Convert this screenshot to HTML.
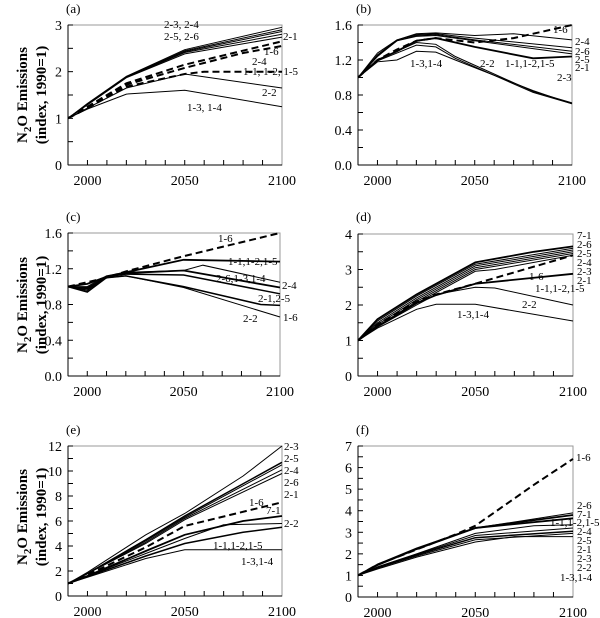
<!DOCTYPE html>
<html><head><meta charset="utf-8"><style>
html,body{margin:0;padding:0;background:#fff;}
svg{display:block;}
svg text{font-family:"Liberation Serif","Times New Roman",serif;}
</style></head><body>
<svg id="s" width="600" height="618" viewBox="0 0 600 618" xmlns="http://www.w3.org/2000/svg"></svg>
<script>
const S=document.getElementById('s');let h='';
function P(o){
 const {x0,x1,yt,yb,max,step,minor,lab,lx,ly,fmt,lines,texts}=o;
 const X=y=>x0+(y-1990)/110*(x1-x0), Y=v=>yb-v/max*(yb-yt);
 h+=`<rect x="${x0}" y="${yt}" width="${x1-x0}" height="${yb-yt}" fill="none" stroke="#999" stroke-width="1"/>`;
 h+=`<line x1="${x0}" y1="${yt}" x2="${x0}" y2="${yb}" stroke="#000"/><line x1="${x0}" y1="${yb}" x2="${x1}" y2="${yb}" stroke="#000"/>`;
 for(let yr=2000;yr<2100;yr+=10)h+=`<line x1="${X(yr)}" y1="${yb}" x2="${X(yr)}" y2="${yb-5}" stroke="#000"/>`;
 for(const yr of [2000,2050,2100])h+=`<text x="${X(yr)}" y="${yb+20}" font-size="14" text-anchor="middle">${yr}</text>`;
 for(let v=0;v<=max+1e-9;v+=minor){h+=`<line x1="${x0}" y1="${Y(v)}" x2="${x0+5}" y2="${Y(v)}" stroke="#000"/>`;}
 for(let v=0;v<=max+1e-9;v+=step){h+=`<text x="${x0-6}" y="${Y(v)+5}" font-size="14" text-anchor="end">${fmt(v)}</text>`;}
 h+=`<text x="${lx}" y="${ly}" font-size="13">${lab}</text>`;
 for(const l of lines){const pts=l.p.map(q=>X(q[0]).toFixed(1)+','+Y(q[1]).toFixed(1)).join(' ');
  h+=`<polyline points="${pts}" fill="none" stroke="#000" stroke-width="${l.d?2:(l.w||1)}" ${l.d?'stroke-dasharray="7,4"':''}/>`;}
 for(const t of texts)h+=`<text x="${t[0]}" y="${t[1]}" font-size="11" ${t[3]?'text-anchor="'+t[3]+'"':''}>${t[2]}</text>`;
}
const f0=v=>Math.round(v), f1=v=>v.toFixed(1);
const L=(arr,d,w)=>({p:arr,d,w});
// (a)
P({x0:68,x1:282,yt:25,yb:165,max:3,step:1,minor:0.5,lab:'(a)',lx:66,ly:13,fmt:f0,
lines:[
L([[1990,1],[2000,1.32],[2020,1.9],[2050,2.47],[2100,2.95]]),
L([[1990,1],[2000,1.31],[2020,1.89],[2050,2.45],[2100,2.9]]),
L([[1990,1],[2000,1.3],[2020,1.88],[2050,2.43],[2100,2.86]]),
L([[1990,1],[2000,1.3],[2020,1.88],[2050,2.41],[2100,2.8]]),
L([[1990,1],[2000,1.29],[2020,1.87],[2050,2.38],[2100,2.74]]),
L([[1990,1],[2000,1.25],[2020,1.75],[2050,2.15],[2100,2.65]],1),
L([[1990,1],[2000,1.24],[2020,1.72],[2050,2.08],[2080,2.4],[2100,2.55]],1),
L([[1990,1],[2000,1.22],[2020,1.68],[2050,1.95],[2060,2.0],[2100,2.0]],1),
L([[1990,1],[2000,1.22],[2020,1.65],[2050,1.95],[2100,1.65]]),
L([[1990,1],[2000,1.2],[2020,1.52],[2050,1.6],[2100,1.25]])],
texts:[[164,28,'2-3, 2-4'],[164,40,'2-5, 2-6'],[283,40,'2-1'],[264,55,'1-6'],[252,65,'2-4'],[243,75,'1-1, 1-2, 1-5'],[262,96,'2-2'],[187,111,'1-3, 1-4']]});
// (b)
P({x0:358,x1:572,yt:25,yb:165,max:1.6,step:0.4,minor:0.2,lab:'(b)',lx:356,ly:13,fmt:f1,
lines:[
L([[1990,1],[2000,1.28],[2010,1.43],[2020,1.5],[2030,1.51],[2050,1.48],[2070,1.5],[2100,1.43]]),
L([[1990,1],[2000,1.26],[2010,1.43],[2020,1.49],[2030,1.5],[2050,1.45],[2100,1.34]]),
L([[1990,1],[2000,1.25],[2010,1.42],[2020,1.48],[2030,1.49],[2050,1.43],[2100,1.3]]),
L([[1990,1],[2000,1.24],[2010,1.42],[2020,1.47],[2030,1.48],[2050,1.42],[2100,1.27]]),
L([[1990,1],[2000,1.2],[2010,1.3],[2020,1.42],[2030,1.45],[2050,1.35],[2080,1.22],[2100,1.24]],0,1.8),
L([[1990,1],[2000,1.2],[2010,1.32],[2020,1.42],[2030,1.45],[2050,1.4],[2070,1.45],[2100,1.6]],1),
L([[1990,1],[2000,1.2],[2020,1.4],[2030,1.38],[2040,1.24],[2080,0.84],[2100,0.71]]),
L([[1990,1],[2000,1.19],[2020,1.37],[2030,1.35],[2040,1.22],[2080,0.83],[2100,0.7]]),
L([[1990,1],[2000,1.18],[2010,1.2],[2020,1.3],[2030,1.29],[2040,1.2],[2080,0.85],[2100,0.7]])],
texts:[[553,33,'1-6'],[575,45,'2-4'],[575,55,'2-6'],[575,63,'2-5'],[575,71,'2-1'],[557,81,'2-3',],[480,67,'2-2'],[505,67,'1-1,1-2,1-5'],[410,67,'1-3,1-4']]});
// (c)
P({x0:68,x1:280,yt:233,yb:376,max:1.6,step:0.4,minor:0.2,lab:'(c)',lx:66,ly:221,fmt:f1,
lines:[
L([[1990,1],[2000,1.05],[2010,1.1],[2020,1.17],[2050,1.34],[2100,1.6]],1),
L([[1990,1],[2000,1.03],[2010,1.11],[2020,1.16],[2050,1.3],[2100,1.28]],0,1.8),
L([[1990,1],[2000,1],[2010,1.12],[2020,1.16],[2050,1.18],[2060,1.24],[2100,1.05]]),
L([[1990,1],[2000,0.98],[2010,1.11],[2020,1.15],[2050,1.18],[2100,0.99]],0,1.8),
L([[1990,1],[2000,0.96],[2010,1.11],[2020,1.14],[2050,1.13],[2100,0.92]],0,1.5),
L([[1990,1],[2000,0.94],[2010,1.1],[2020,1.12],[2050,1],[2090,0.8],[2100,0.79]],0,1.5),
L([[1990,1],[2000,0.99],[2010,1.1],[2020,1.12],[2050,0.99],[2100,0.66]])],
texts:[[218,242,'1-6'],[228,265,'1-1,1-2,1-5'],[216,282,'2-6,1-3,1-4'],[282,289,'2-4'],[258,302,'2-1,2-5'],[283,321,'1-6'],[243,322,'2-2']]});
// (d)
P({x0:358,x1:573,yt:234,yb:376,max:4,step:1,minor:0.5,lab:'(d)',lx:356,ly:221,fmt:f0,
lines:[
L([[1990,1],[2000,1.6],[2020,2.3],[2050,3.2],[2080,3.5],[2100,3.65]],0,1.8),
L([[1990,1],[2000,1.55],[2020,2.25],[2050,3.15],[2100,3.6]]),
L([[1990,1],[2000,1.5],[2020,2.2],[2050,3.1],[2100,3.55]]),
L([[1990,1],[2000,1.45],[2020,2.15],[2050,3.05],[2100,3.5]]),
L([[1990,1],[2000,1.4],[2020,2.1],[2050,3.0],[2100,3.45]]),
L([[1990,1],[2000,1.38],[2020,2.05],[2050,2.95],[2060,3.0],[2100,3.4]]),
L([[1990,1],[2000,1.45],[2020,2.1],[2030,2.3],[2050,2.6],[2100,3.4]],1),
L([[1990,1],[2000,1.4],[2020,2.05],[2030,2.28],[2050,2.6],[2100,2.88]],0,1.8),
L([[1990,1],[2000,1.38],[2020,2.0],[2030,2.3],[2050,2.5],[2060,2.48],[2100,2.0]]),
L([[1990,1],[2000,1.35],[2020,1.88],[2030,2.02],[2050,2.02],[2100,1.55]])],
texts:[[577,239,'7-1'],[577,248,'2-6'],[577,257,'2-5'],[577,266,'2-4'],[577,275,'2-3'],[577,284,'2-1'],[529,280,'1-6'],[535,292,'1-1,1-2,1-5'],[522,308,'2-2'],[457,318,'1-3,1-4']]});
// (e)
P({x0:68,x1:282,yt:446,yb:596,max:12,step:2,minor:1,lab:'(e)',lx:66,ly:434,fmt:f0,
lines:[
L([[1990,1],[2000,1.9],[2030,4.9],[2050,6.6],[2080,9.6],[2100,12]]),
L([[1990,1],[2000,1.8],[2030,4.5],[2050,6.4],[2100,10.7]],0,1.5),
L([[1990,1],[2000,1.8],[2030,4.4],[2050,6.3],[2100,10.5]]),
L([[1990,1],[2000,1.8],[2030,4.3],[2050,6.2],[2100,10.1]]),
L([[1990,1],[2000,1.8],[2030,4.2],[2050,6.1],[2100,9.8]]),
L([[1990,1],[2000,1.7],[2030,3.9],[2050,5.6],[2100,7.5]],1),
L([[1990,1],[2000,1.6],[2030,3.6],[2050,4.9],[2080,6.0],[2100,6.4]],0,1.8),
L([[1990,1],[2000,1.6],[2030,3.4],[2050,4.6],[2070,5.7],[2100,5.8]]),
L([[1990,1],[2000,1.55],[2030,3.2],[2050,4.2],[2080,5.1],[2100,5.5]],0,1.5),
L([[1990,1],[2000,1.5],[2030,3.0],[2050,3.7],[2100,3.7]])],
texts:[[284,450,'2-3'],[284,462,'2-5'],[284,474,'2-4'],[284,486,'2-6'],[284,498,'2-1'],[249,506,'1-6'],[266,514,'7-1'],[284,527,'2-2'],[213,549,'1-1,1-2,1-5'],[241,565,'1-3,1-4']]});
// (f)
P({x0:358,x1:573,yt:446,yb:597,max:7,step:1,minor:0.5,lab:'(f)',lx:356,ly:434,fmt:f0,
lines:[
L([[1990,1],[2000,1.5],[2020,2.2],[2040,2.9],[2050,3.3],[2080,5.2],[2100,6.4]],1),
L([[1990,1],[2000,1.5],[2020,2.25],[2050,3.2],[2100,3.9]]),
L([[1990,1],[2000,1.5],[2020,2.25],[2050,3.2],[2100,3.8]],0,1.8),
L([[1990,1],[2000,1.48],[2020,2.22],[2050,3.2],[2100,3.65]],0,1.8),
L([[1990,1],[2000,1.4],[2020,2.0],[2050,2.95],[2080,3.3],[2100,3.35]]),
L([[1990,1],[2000,1.38],[2020,1.98],[2050,2.85],[2100,3.2]]),
L([[1990,1],[2000,1.36],[2020,1.95],[2050,2.75],[2100,3.05]],0,1.5),
L([[1990,1],[2000,1.34],[2020,1.9],[2050,2.65],[2100,2.95]]),
L([[1990,1],[2000,1.3],[2020,1.85],[2050,2.55],[2070,2.8],[2100,2.8]])],
texts:[[576,461,'1-6'],[577,509,'2-6'],[577,518,'7-1'],[550,526,'1-1,1-2,1-5'],[577,535,'2-4'],[577,544,'2-5'],[577,553,'2-1'],[577,562,'2-3'],[577,571,'2-2'],[560,581,'1-3,1-4']]});
// y-axis titles
for(const cy of [95,305,517]){
 h+=`<g transform="translate(27,${cy}) rotate(-90)"><text x="0" y="0" font-size="15" font-weight="bold" text-anchor="middle">N<tspan font-size="11" dy="4">2</tspan><tspan dy="-4">O Emissions</tspan></text><text x="0" y="19" font-size="15" font-weight="bold" text-anchor="middle">(index, 1990=1)</text></g>`;
}
S.innerHTML=h;
</script>
</body></html>
